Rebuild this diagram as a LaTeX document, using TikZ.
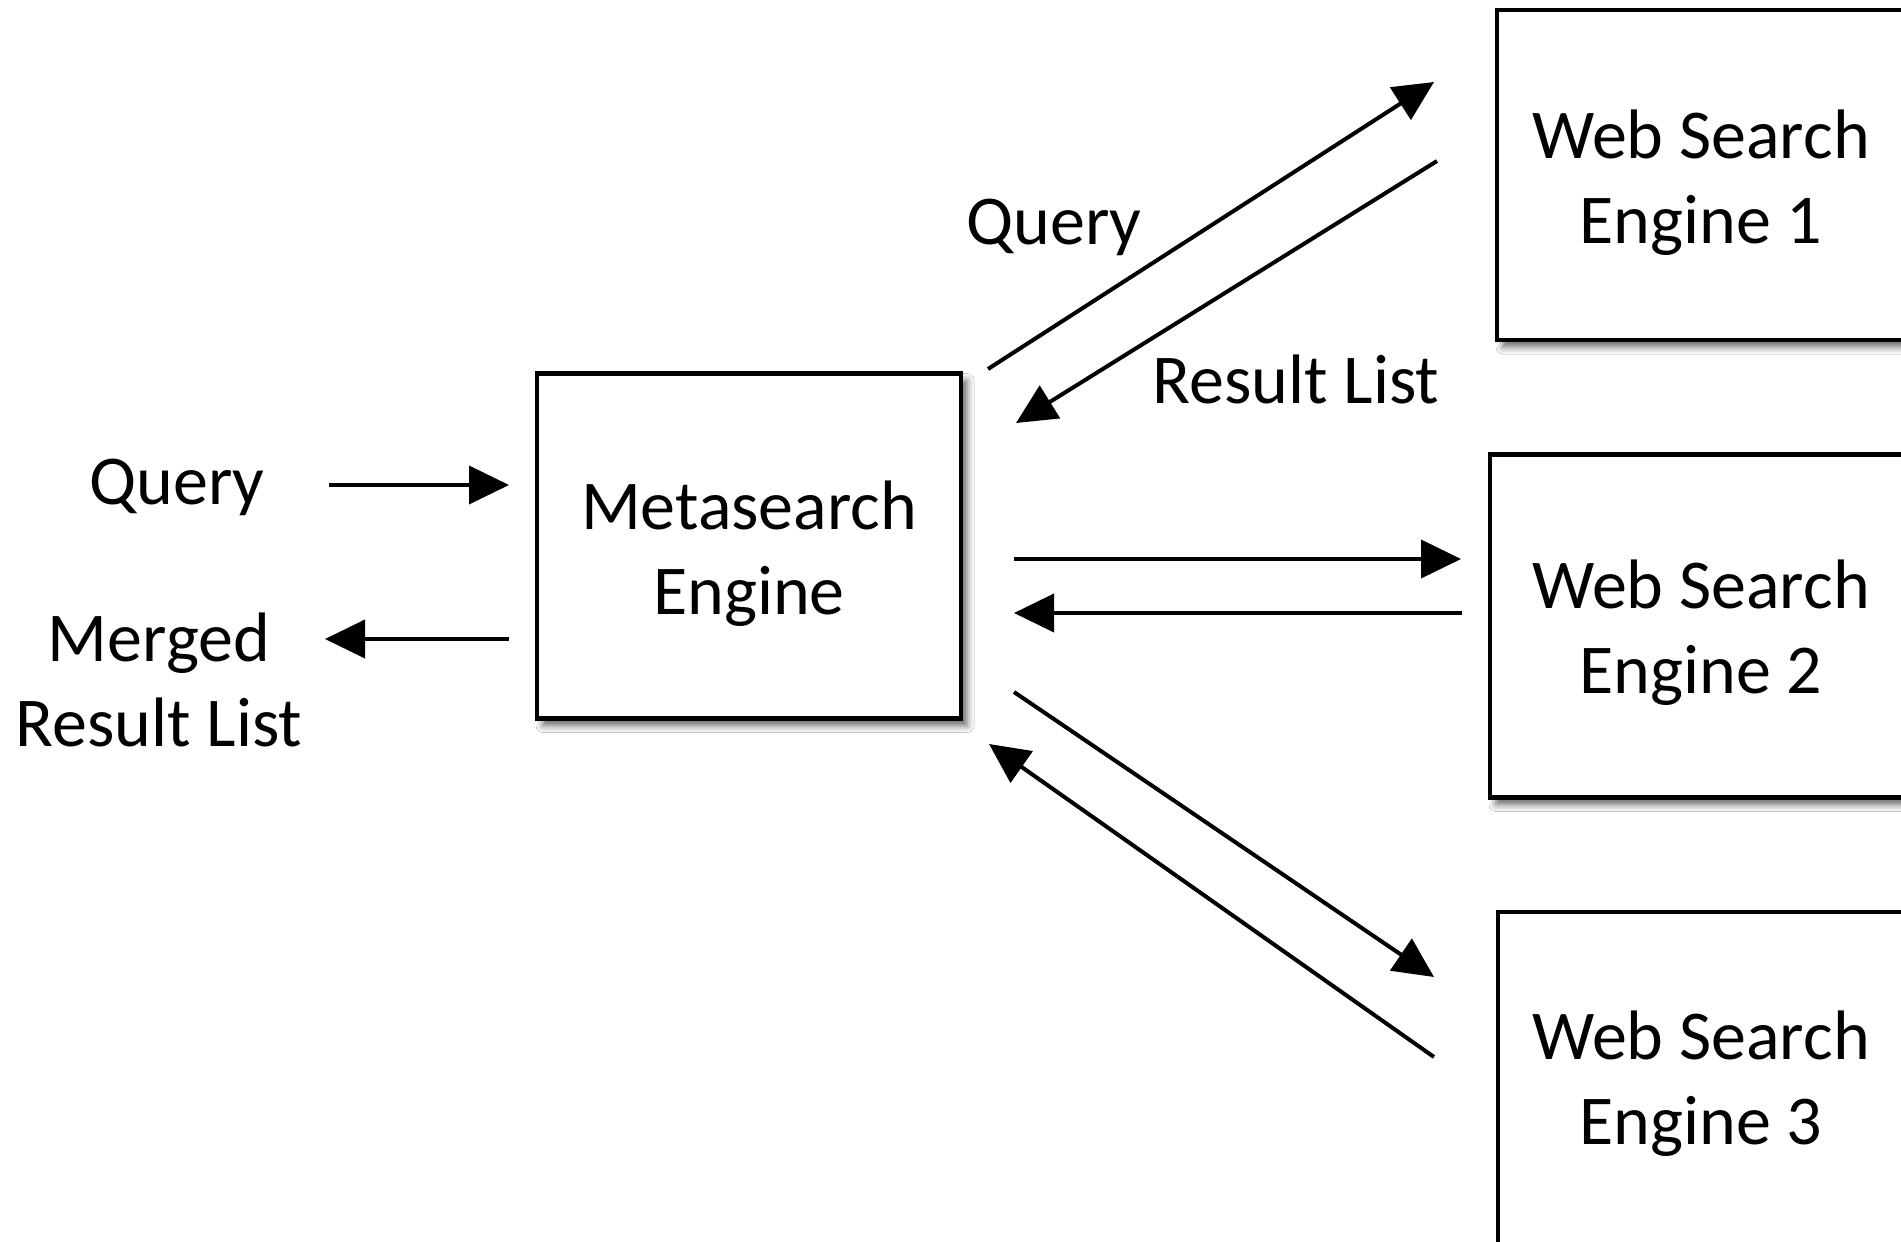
\documentclass[tikz,border=0pt]{standalone}
\usepackage{fontspec}
\setmainfont{Carlito}
\usetikzlibrary{arrows.meta,shadows.blur}
\begin{document}
\begin{tikzpicture}[x=1pt,y=-1pt,
  box/.style={draw=black, line width=4.5pt, fill=white, inner sep=0pt,
    blur shadow={shadow xshift=6pt, shadow yshift=-7pt, shadow blur radius=7pt, shadow opacity=60}},
  lbl/.style={align=center, inner sep=0pt},
  arr/.style={line width=4pt, -{Triangle[length=40pt,width=38pt]}},
  font=\fontsize{70}{85}\selectfont]
\useasboundingbox[fill=white] (0,0) rectangle (1901,1242);

% boxes
\node[box, minimum width=424pt, minimum height=345pt] (meta) at (749,546) {};
\node[box, minimum width=408pt, minimum height=330pt] (ws1) at (1701,175) {};
\node[box, minimum width=422pt, minimum height=343pt] (ws2) at (1701,626) {};
\node[box, minimum width=406pt, minimum height=332pt] (ws3) at (1701,1078) {};

% box texts
\node[lbl] (metat) at ([yshift=-8pt]meta.center) {Metasearch\\Engine};
\node[lbl] (ws1t) at ([yshift=-8pt]ws1.center) {Web Search\\Engine 1};
\node[lbl] (ws2t) at ([yshift=-7pt]ws2.center) {Web Search\\Engine 2};
\node[lbl] (ws3t) at ([yshift=-6pt]ws3.center) {Web Search\\Engine 3};

% labels
\node[lbl, anchor=base] (qin) at (177,504) {Query};
\node[lbl] (merged) at (159,680) {Merged\\Result List};
\node[lbl, anchor=base] (q1) at (1054,244) {Query};
\node[lbl, anchor=base] (r1) at (1296,403) {Result List};

% connector end points
\coordinate (qinS) at (329,485);  \coordinate (qinE) at (509,485);
\coordinate (mrS) at (509,639);   \coordinate (mrE) at (325,639);
\coordinate (q1S) at (988,369);   \coordinate (q1E) at (1434,82);
\coordinate (r1S) at (1437,161);  \coordinate (r1E) at (1016,423);
\coordinate (q2S) at (1014,559);  \coordinate (q2E) at (1461,559);
\coordinate (r2S) at (1462,613);  \coordinate (r2E) at (1014,613);
\coordinate (q3S) at (1014,692);  \coordinate (q3E) at (1434,977);
\coordinate (r3S) at (1434,1057); \coordinate (r3E) at (989,744);

% connectors
\draw[arr] (qinS) -- (qinE);
\draw[arr] (mrS) -- (mrE);
\draw[arr] (q1S) -- (q1E);
\draw[arr] (r1S) -- (r1E);
\draw[arr] (q2S) -- (q2E);
\draw[arr] (r2S) -- (r2E);
\draw[arr] (q3S) -- (q3E);
\draw[arr] (r3S) -- (r3E);
\end{tikzpicture}
\end{document}
